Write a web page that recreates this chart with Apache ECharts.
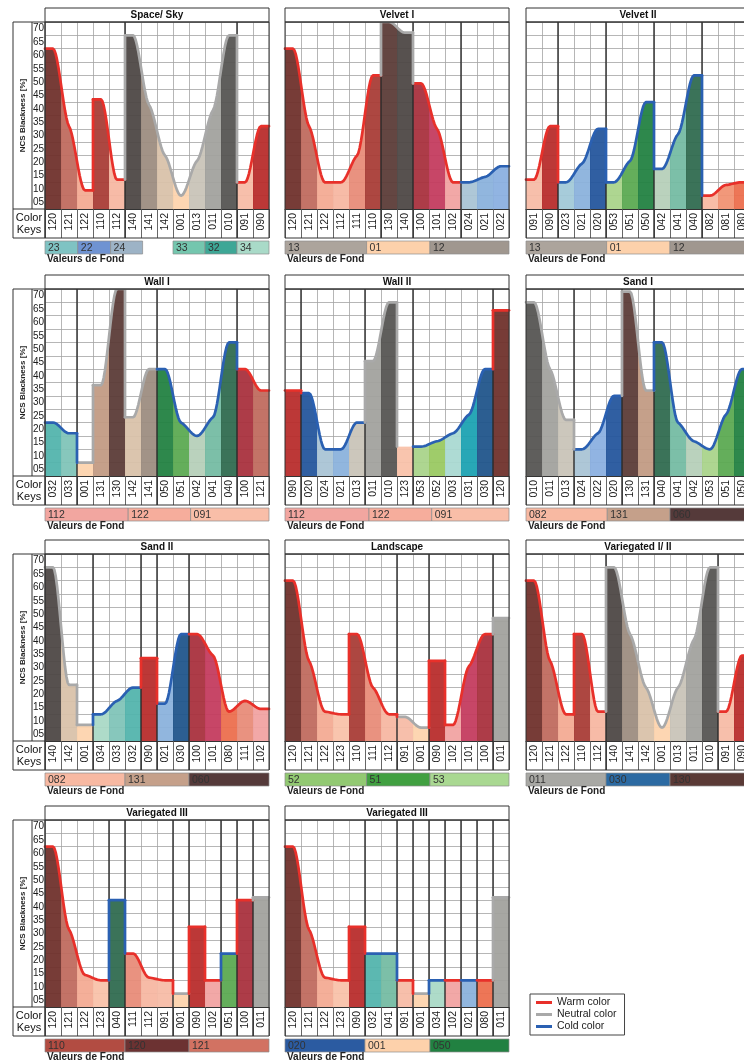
<!DOCTYPE html>
<html><head><meta charset="utf-8">
<script src="https://cdn.jsdelivr.net/npm/echarts/dist/echarts.min.js"></script>
<style>html,body{margin:0;padding:0;background:#fff}#c{width:744px;height:1063px}</style>
</head><body><div id="c"></div>
<script>
// ---------------- DATA ----------------
const titles = ['Space/ Sky','Velvet I','Velvet II','Wall I','Wall II','Sand I','Sand II','Landscape','Variegated I/ II','Variegated III','Variegated III'];
const yTicks = ['05','10','15','20','25','30','35','40','45','50','55','60','65','70'];
const keys = [
 ['120','121','122','110','112','140','141','142','001','013','011','010','091','090'],
 ['120','121','122','112','111','110','130','140','100','101','102','024','021','022'],
 ['091','090','023','021','020','053','051','050','042','041','040','082','081','080'],
 ['032','033','001','131','130','142','141','050','051','042','041','040','100','121'],
 ['090','020','024','021','013','011','010','123','053','052','003','031','030','120'],
 ['010','011','013','024','022','020','130','131','040','041','042','053','051','050'],
 ['140','142','001','034','033','032','090','021','030','100','101','080','111','102'],
 ['120','121','122','123','110','111','112','091','001','090','102','101','100','011'],
 ['120','121','122','110','112','140','141','142','001','013','011','010','091','090'],
 ['120','121','122','123','040','111','112','091','001','090','102','051','100','011'],
 ['120','121','122','123','090','032','041','091','001','034','102','021','080','011']
];
// NCS blackness [%] per colour key
const blackness = [
 [60,31,7,41,11,65,39,20,5,18,37,65,10,31],
 [60,31,10,10,20,50,70,66,47,30,10,10,12,16],
 [11,31,10,17,30,10,18,40,15,28,50,5,9,10],
 [20,16,5,34,70,22,40,40,20,15,22,50,40,32],
 [32,31,10,10,20,43,65,11,11,13,16,23,40,62],
 [65,40,21,10,16,30,69,32,50,20,13,10,23,40],
 [65,21,6,10,15,20,31,14,40,40,32,11,15,12],
 [60,30,11,10,40,20,10,9,5,30,6,28,40,46],
 [60,30,10,40,11,65,40,20,5,20,38,65,11,32],
 [60,29,12,10,40,20,11,10,5,30,10,20,40,41],
 [60,29,11,10,30,20,20,10,5,10,10,10,10,41]
];
// W = warm, N = neutral, C = cold, - = none
const tones = ['WWWWWNNNNNNNWW','WWWWWWNNWWWCCC','WWCCCCCCCCCWWW','CCNNNNNCCCCCWW','WCCCCNN-CCCCCW',
 'NNNCCCNNCCCCCC','NNNCCCWCCWWWWW','WWWWWWWNNWWWWN','WWWWWNNNNNNNWW','WWWWCWWWNWWCWN','WWWWWCCWNCWCWN'];
// group separators (category boundaries)
const seps = [[5,12],[6,8,11],[2,5,8,11],[2,7,12],[1,5,8,13],[3,6,8],[3,6,7,9],[7,9,13],[5,12],[4,5,8,9,11,12,13],[5,7,8,9,10,11,12,13]];
// curve breaks inside a group of the same tone
const breaks = [[3],[],[],[3,5],[7],[],[2],[4,10],[3],[10],[4]];
// "Valeurs de Fond" strips (labels and their category ranges)
const fondLabels = [['23','22','24','33','32','34'],['13','01','12'],['13','01','12'],['112','122','091'],['112','122','091'],
 ['082','131','060'],['082','131','060'],['52','51','53'],['011','030','130'],['110','120','121'],['020','001','050']];
const fondRanges = [
 [[0,2.05],[2.05,4.1],[4.1,6.1],[8,10],[10,12],[12,14]],
 [[0,5.1],[5.1,9.06],[9.06,14]],
 [[0,5.04],[5.04,9],[9,14]],
 [[0,5.2],[5.2,9.1],[9.1,14]],
 [[0,5.25],[5.25,9.17],[9.17,14]],
 [[0,5.08],[5.08,9],[9,14]],
 [[0,5],[5,9],[9,14]],
 [[0,5.1],[5.1,9.06],[9.06,14]],
 [[0,5],[5,9],[9,14]],
 [[0,5],[5,9],[9,14]],
 [[0,5],[5,9.06],[9.06,14]]
];
const legendNames = ['Warm color','Neutral color','Cold color'];

// ---------------- STYLE ----------------
const keyColor = {'120':'#6e302b','121':'#bf6a5d','122':'#f3aa93','123':'#f9c1a9','110':'#a83b35','111':'#e88b78','112':'#f6b7a2',
 '100':'#a8303d','101':'#c43a5e','102':'#f1a3a1','090':'#b82c2a','091':'#f7bba6','080':'#ec6d4d','081':'#f19272','082':'#f8b9a2',
 '140':'#4d4644','141':'#9c8c80','142':'#d9c1a9','130':'#5a3a36','131':'#c19a83','001':'#fdd3ad','003':'#a9d9d1','013':'#c9c3b8',
 '011':'#a2a19d','010':'#555452','020':'#23559c','021':'#8ab1dc','022':'#8aafe0','023':'#a2c9d8','024':'#a9c3d5','030':'#1f548a',
 '031':'#1ba1b1','032':'#52b4ac','033':'#7fc4b8','034':'#a9d9c6','040':'#2f6a4f','041':'#74bba3','042':'#b6cfb9','050':'#218141',
 '051':'#5aa951','052':'#99c961','053':'#a9d38a'};
const fondColor = {'23':'#7fc3c3','22':'#6f93d2','24':'#9db3c6','33':'#74c6ae','32':'#3ea796','34':'#a9dac8','13':'#aca49c','01':'#fdd1ab',
 '12':'#a0978f','112':'#f2a6a0','122':'#f6ad9c','091':'#f9bea8','082':'#f8b9a2','131':'#c5a08a','060':'#553a3a','52':'#92c972',
 '51':'#41a041','53':'#a9d891','011':'#a8a8a4','030':'#2c6aa2','130':'#5a3a36','110':'#b24c42','120':'#6c3232','121':'#d27262',
 '020':'#2b5ba1','001':'#fdd1ab','050':'#218141'};
const toneColor = {W:'#e8302a', N:'#a9a9a9', C:'#2a60b2'};
const FONT = 'Liberation Sans', NARROW = 'Liberation Sans Narrow, Liberation Sans';

// ---------------- LAYOUT ----------------
const NC = 14, CELL = 16, PW = NC*CELL, TH = 14, PH = 187, KH = 29, SG = 32, SH = 13, LW = 2.7;
const colLeft = [45, 285, 526], rowTop = [8, 275, 540, 806];
const SHAPE = 0.35;

function segmentsOf(p){
  const t = tones[p], segs = []; let s = 0;
  for (let i = 1; i <= NC; i++) {
    if (i === NC || t[i] !== t[i-1] || seps[p].includes(i) || breaks[p].includes(i)) { segs.push([s, i]); s = i; }
  }
  return segs;
}
function makeCurve(vals){
  const n = vals.length, m = new Array(n).fill(0);
  for (let k = 1; k < n-1; k++) { const a = vals[k]-vals[k-1], b = vals[k+1]-vals[k]; if (a*b > 0) m[k] = SHAPE*2*a*b/(a+b); }
  return function(u){
    if (n === 1 || u <= 0.5) return vals[0];
    if (u >= n-0.5) return vals[n-1];
    const k = Math.min(n-2, Math.floor(u-0.5)), t = u-0.5-k, t2 = t*t, t3 = t2*t;
    return (2*t3-3*t2+1)*vals[k] + (t3-2*t2+t)*m[k] + (-2*t3+3*t2)*vals[k+1] + (t3-t2)*m[k+1];
  };
}
const panels = titles.map((t,p) => {
  const segs = segmentsOf(p);
  const curves = segs.map(([s,e]) => makeCurve(blackness[p].slice(s,e)));
  const cellSeg = []; segs.forEach(([s,e],j) => { for (let i = s; i < e; i++) cellSeg[i] = j; });
  return {segs, curves, cellSeg};
});
function yAt(p, j, x){ return panels[p].curves[j](x - panels[p].segs[j][0]); }

const grid = [], xAxis = [], yAxis = [], series = [], graphic = [];
titles.forEach((title, p) => {
  const col = p % 3, row = Math.floor(p/3);
  const L = colLeft[col], T0 = rowTop[row], PT = T0 + TH, PB = PT + PH;
  const gi = grid.length, xi = xAxis.length, yi = yAxis.length;
  grid.push({left: L, top: PT, width: PW, height: PH, containLabel: false, outerBoundsMode: 'none'});
  grid.push({left: L, top: PB + SG, width: PW, height: SH, containLabel: false, outerBoundsMode: 'none'});
  xAxis.push({type:'value', gridIndex: gi, min: 0, max: NC, interval: 1, position:'bottom',
    axisLabel:{show:false}, axisLine:{show:false}, axisTick:{show:false},
    splitLine:{show:true, lineStyle:{color:'#a3a3a3', width:0.8}}});
  xAxis.push({type:'category', gridIndex: gi, data: keys[p], position:'bottom', boundaryGap: true,
    axisLine:{show:true, onZero:false, lineStyle:{color:'#333', width:1}},
    axisTick:{show:true, interval:0, length:KH, lineStyle:{color:'#555', width:0.9}},
    axisLabel:{interval:0, rotate:90, margin:4, fontSize:10.5, color:'#1a1a1a', fontFamily: NARROW},
    splitLine:{show:false}});
  xAxis.push({type:'value', gridIndex: gi+1, min: 0, max: NC, show: false});
  yAxis.push({type:'value', gridIndex: gi, position:'left', min: 0, max: 70, interval: 5,
    axisLabel:{show:false}, axisLine:{show:false}, axisTick:{show:false},
    splitLine:{show:true, lineStyle:{color:'#a3a3a3', width:0.8}}});
  yAxis.push({type:'category', gridIndex: gi, position:'left', data: yTicks, show: col === 0, boundaryGap: true,
    axisLine:{show:false}, axisTick:{show:false}, splitLine:{show:false},
    axisLabel:{interval:0, margin:12, align:'left', fontSize:10, color:'#1a1a1a', fontFamily: FONT}});
  yAxis.push({type:'value', gridIndex: gi+1, position:'left', min: 0, max: 1, show: false});

  const P = panels[p];
  // filled cells
  series.push({type:'custom', xAxisIndex: xi, yAxisIndex: yi, silent: true, clip: false, z: 2,
    data: blackness[p].map((v,i) => [i+0.5, v]),
    renderItem: (params, api) => {
      const i = params.dataIndex, j = P.cellSeg[i], pts = [api.coord([i,0])], N = 12;
      for (let k = 0; k <= N; k++) { const x = i + k/N; pts.push(api.coord([x, yAt(p,j,x)])); }
      pts.push(api.coord([i+1,0]));
      return {type:'polygon', shape:{points: pts}, style:{fill: keyColor[keys[p][i]] || '#ccc', opacity: 0.94}};
    }});
  // group separators
  series.push({type:'custom', xAxisIndex: xi, yAxisIndex: yi, silent: true, clip: false, z: 3,
    data: seps[p].map(s => [s, 70]),
    renderItem: (params, api) => {
      const s = seps[p][params.dataIndex], a = api.coord([s,70]), b = api.coord([s,0]);
      return {type:'line', shape:{x1:a[0], y1:a[1], x2:b[0], y2:b[1]+KH}, style:{stroke:'#2b2b2b', lineWidth:1.4}};
    }});
  // tone curves
  series.push({type:'custom', xAxisIndex: xi, yAxisIndex: yi, silent: true, clip: false, z: 4,
    data: P.segs.map(([s,e]) => [s, e]),
    renderItem: (params, api) => {
      const j = params.dataIndex, [s,e] = P.segs[j], tone = tones[p][s], children = [];
      if (tone !== '-') {
        const pts = [], N = 12*(e-s);
        for (let k = 0; k <= N; k++) { const x = s + (e-s)*k/N; pts.push(api.coord([x, yAt(p,j,x)])); }
        children.push({type:'polyline', shape:{points: pts}, style:{stroke: toneColor[tone], lineWidth: LW, fill: 'none', lineJoin:'round', lineCap:'round'}});
      }
      if (j > 0) {
        const a = blackness[p][s-1], b = blackness[p][s];
        if (a !== b) {
          const hi = b > a ? tone : tones[p][s-1];
          if (hi !== '-') {
            const c1 = api.coord([s,a]), c2 = api.coord([s,b]);
            children.push({type:'line', shape:{x1:c1[0], y1:c1[1], x2:c2[0], y2:c2[1]}, style:{stroke: toneColor[hi], lineWidth: LW, lineCap:'round'}});
          }
        }
      }
      return {type:'group', children};
    }});
  // Valeurs de Fond strip
  series.push({type:'custom', xAxisIndex: xi+2, yAxisIndex: yi+2, silent: true, clip: false, z: 2,
    data: fondRanges[p].map(r => [r[0], r[1]]),
    renderItem: (params, api) => {
      const jj = params.dataIndex, r = fondRanges[p][jj], lab = fondLabels[p][jj];
      const a = api.coord([r[0],1]), b = api.coord([r[1],0]);
      return {type:'group', children:[
        {type:'rect', shape:{x:a[0], y:a[1], width:b[0]-a[0], height:b[1]-a[1]}, style:{fill: fondColor[lab], stroke:'#8c8c8c', lineWidth:0.7}},
        {type:'text', style:{text: lab, x: a[0]+3, y: (a[1]+b[1])/2+0.5, align:'left', verticalAlign:'middle', textAlign:'left', textVerticalAlign:'middle', fill:'#333', font:'10.5px ' + FONT}}
      ]};
    }});

  // frames and texts
  graphic.push({type:'rect', z: 50, silent: true, shape:{x:L, y:T0, width:PW, height:TH}, style:{fill:'#fff', stroke:'#333', lineWidth:1}});
  graphic.push({type:'text', z: 51, silent: true, style:{text: title, x: L+PW/2, y: T0+TH/2+0.5, align:'center', verticalAlign:'middle', textAlign:'center', textVerticalAlign:'middle', fill:'#111', font:'bold 10px ' + FONT}});
  graphic.push({type:'rect', z: 50, silent: true, shape:{x:L, y:PT, width:PW, height:PH+KH}, style:{fill:'none', stroke:'#333', lineWidth:1}});
  graphic.push({type:'text', z: 51, silent: true, style:{text:'Valeurs de Fond', x: L+2, y: PB+SG+SH+0.5, align:'left', verticalAlign:'top', textAlign:'left', textVerticalAlign:'top', fill:'#222', font:'bold 10px ' + FONT}});
  if (col === 0) {
    const BL = 13, IL = 32;
    graphic.push({type:'rect', z: 50, silent: true, shape:{x:BL, y:PT, width:L-BL, height:PH+KH}, style:{fill:'none', stroke:'#333', lineWidth:1}});
    graphic.push({type:'line', z: 50, silent: true, shape:{x1:IL, y1:PT, x2:IL, y2:PB}, style:{stroke:'#333', lineWidth:1}});
    graphic.push({type:'line', z: 50, silent: true, shape:{x1:BL, y1:PB, x2:L, y2:PB}, style:{stroke:'#333', lineWidth:1}});
    graphic.push({type:'text', z: 51, silent: true, rotation: Math.PI/2, x: (BL+IL)/2, y: PT+PH/2,
      style:{text:'NCS Blackness [%]', x:0, y:0, align:'center', verticalAlign:'middle', textAlign:'center', textVerticalAlign:'middle', fill:'#222', font:'bold 8px ' + NARROW}});
    graphic.push({type:'text', z: 51, silent: true, style:{text:'Color', x:(BL+L)/2, y: PB+8.5, align:'center', verticalAlign:'middle', textAlign:'center', textVerticalAlign:'middle', fill:'#111', font:'11px ' + FONT}});
    graphic.push({type:'text', z: 51, silent: true, style:{text:'Keys', x:(BL+L)/2, y: PB+20.5, align:'center', verticalAlign:'middle', textAlign:'center', textVerticalAlign:'middle', fill:'#111', font:'11px ' + FONT}});
  }
});

// legend entries
legendNames.forEach((n, k) => {
  series.push({type:'line', name: n, data: [], xAxisIndex: 0, yAxisIndex: 0, color: [toneColor.W, toneColor.N, toneColor.C][k]});
});

const chart = echarts.init(document.getElementById('c'), null, {renderer:'canvas'});
chart.setOption({
  animation: false,
  backgroundColor: '#fff',
  grid, xAxis, yAxis, series, graphic,
  legend: {data: legendNames, left: 530, top: 994, orient: 'vertical', icon: 'rect', itemWidth: 16, itemHeight: 3, itemGap: 1,
    padding: [3, 8, 3, 6], borderColor: '#444', borderWidth: 1, selectedMode: false,
    textStyle: {fontSize: 10.5, color: '#222', fontFamily: FONT}}
});
</script></body></html>
